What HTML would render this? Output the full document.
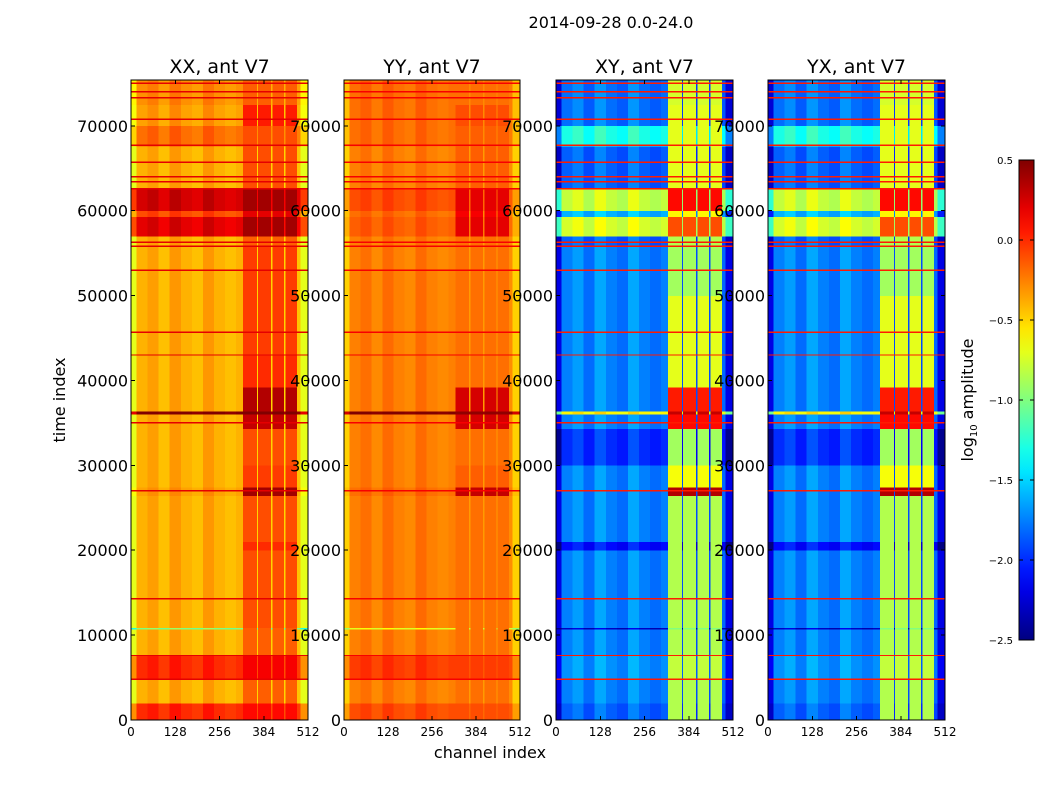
<!DOCTYPE html>
<html><head><meta charset="utf-8"><style>
body{margin:0;background:#fff;font-family:"Liberation Sans","DejaVu Sans",sans-serif}
svg text{font-family:"DejaVu Sans","Liberation Sans",sans-serif}
</style></head><body>
<svg id="fig" width="1050" height="800" viewBox="0 0 1050 800" xmlns="http://www.w3.org/2000/svg" shape-rendering="crispEdges">
<rect width="1050" height="800" fill="#fff"/>
<text x="611" y="28" font-size="16" text-anchor="middle">2014-09-28 0.0-24.0</text>
<text x="490" y="758" font-size="16" text-anchor="middle">channel index</text>
<text transform="translate(65,400) rotate(-90)" font-size="16" text-anchor="middle">time index</text>
<g id="panels"></g>
<g id="cbar"></g>
</svg>
<script>
const timeEdges=[0,2000,4800,7600,10700,10900,20000,21000,26400,27400,30000,34300,36000,36400,39200,43000,50000,55800,57000,59300,60000,62600,67600,70000,72500,75400];
const xxBroad=[0.0,-0.4,0.0,-0.4,-1.0,-0.4,-0.4,-0.4,-0.35,-0.4,-0.4,-0.4,0.5,-0.4,-0.4,-0.4,-0.4,-0.4,0.2,-0.1,0.25,-0.4,-0.2,-0.35,-0.3];
const xxRfi=[0.1,-0.15,0.15,-0.15,-0.15,-0.1,0.0,-0.1,0.4,-0.05,-0.1,0.3,0.5,0.35,0.0,-0.05,-0.05,-0.15,0.4,0.2,0.4,-0.1,-0.1,0.05,-0.15];
const yyBroad=[-0.1,-0.25,-0.05,-0.25,-0.7,-0.25,-0.25,-0.25,-0.2,-0.25,-0.25,-0.25,0.5,-0.25,-0.25,-0.25,-0.25,-0.25,-0.15,-0.2,-0.1,-0.25,-0.2,-0.2,-0.2];
const yyRfi=[-0.1,-0.2,-0.05,-0.2,-0.2,-0.2,-0.2,-0.2,0.3,-0.15,-0.2,0.25,0.45,0.25,-0.2,-0.2,-0.2,-0.2,0.2,0.15,0.2,-0.15,-0.15,-0.1,-0.2];
const xyBroad=[-1.85,-1.75,-1.7,-1.75,-2.3,-1.75,-2.1,-1.75,-1.75,-1.75,-2.0,-1.75,-0.6,-1.75,-1.75,-1.75,-1.75,-1.85,-0.75,-1.6,-0.8,-1.85,-1.3,-1.8,-1.8];
const xyRfi=[-0.85,-0.85,-0.8,-0.85,-1.0,-0.85,-0.85,-0.85,0.35,-0.65,-0.9,0.1,0.3,0.05,-0.7,-0.7,-0.9,-0.85,-0.1,-0.6,0.1,-0.7,-0.7,-0.7,-0.75];
const chEdges=[0,16,48,80,112,144,176,208,240,272,304,324,364,368,405,409,443,447,480,490,512];
const chTypes=['b','b','b','b','b','b','b','b','b','b','b','r','g','r','g','r','g','r','b','b'];
const broadOffsets=[-0.3,0.0,0.06,-0.04,0.08,0.0,-0.04,0.08,0.0,-0.04,0.0,-0.05,-0.3];
const lineTimes=[4800,7600,14300,27000,35000,43000,45700,53000,55800,56300,62600,63400,64000,65700,67700,70800,73300,74000,75000];
const xxLine=0.2, yyLine=0.15, xyLine=0.05;
const cbTicks=[0.5,0.0,-0.5,-1.0,-1.5,-2.0,-2.5];
const xTicks=[0,128,256,384,512];
const yTicks=[0,10000,20000,30000,40000,50000,60000,70000];

const VMIN=-2.5,VMAX=0.5,TMAX=75400,CMAX=512;
const PY0=80,PY1=720;
function cl(v){return Math.max(0,Math.min(1,v));}
function jet(v){const x=cl((v-VMIN)/(VMAX-VMIN));
 const r=cl(1.5-Math.abs(4*x-3)),g=cl(1.5-Math.abs(4*x-2)),b=cl(1.5-Math.abs(4*x-1));
 return `rgb(${Math.round(r*255)},${Math.round(g*255)},${Math.round(b*255)})`;}
const NS="http://www.w3.org/2000/svg";
function mk(tag,attrs,parent){const e=document.createElementNS(NS,tag);for(const k in attrs)e.setAttribute(k,attrs[k]);parent.appendChild(e);return e;}

const panels=[
 {name:'xx',title:'XX, ant V7',x0:131,x1:308,broad:xxBroad,rfi:xxRfi,line:xxLine,scale:1},
 {name:'yy',title:'YY, ant V7',x0:344,x1:520,broad:yyBroad,rfi:yyRfi,line:yyLine,scale:0.8},
 {name:'xy',title:'XY, ant V7',x0:556,x1:733,broad:xyBroad,rfi:xyRfi,line:xyLine,scale:1.5},
 {name:'yx',title:'YX, ant V7',x0:768,x1:945,broad:xyBroad,rfi:xyRfi,line:xyLine,scale:1.5}
];
const root=document.getElementById('panels');
panels.forEach(p=>{
 const g=mk('g',{},root);
 
 
 const xs=c=>p.x0+(p.x1-p.x0)*c/CMAX;
 const ys=t=>PY1-(PY1-PY0)*t/TMAX;
 for(let i=0;i<timeEdges.length-1;i++){
  const y0=ys(timeEdges[i+1]),y1=ys(timeEdges[i]);
  let bi=0;
  for(let j=0;j<chTypes.length;j++){
   let v;
   if(chTypes[j]==='b'){v=p.broad[i]+broadOffsets[bi]*p.scale;bi++;}
   else if(chTypes[j]==='r'){v=p.rfi[i];}
   else {v=p.broad[i]-0.1*p.scale;}
   const r=mk('rect',{x:xs(chEdges[j]).toFixed(2),y:y0.toFixed(2),width:(xs(chEdges[j+1])-xs(chEdges[j])+0.3).toFixed(2),height:(y1-y0+0.3).toFixed(2),fill:jet(v)},g);
   
   
  }
 }
 lineTimes.forEach(t=>{
  const l=mk('rect',{x:p.x0,y:(ys(t)-0.7).toFixed(2),width:p.x1-p.x0,height:1.4,fill:jet(p.line)},g);
  
  
 });
 const fr=mk('rect',{x:p.x0,y:PY0,width:p.x1-p.x0,height:PY1-PY0,fill:'none',stroke:'#000','stroke-width':1},g);
 
 
 const tt=mk('text',{x:(p.x0+p.x1)/2,y:73,'font-size':19,'text-anchor':'middle'},g);
 tt.textContent=p.title;
 
 
 xTicks.forEach(c=>{
  const x=xs(c);
  mk('line',{x1:x,x2:x,y1:PY1,y2:PY1-4,stroke:'#000'},g);
  mk('line',{x1:x,x2:x,y1:PY0,y2:PY0+4,stroke:'#000'},g);
  const t=mk('text',{x:x,y:736,'font-size':12,'text-anchor':'middle'},g);
  t.textContent=c;
  
  
 });
 yTicks.forEach(v=>{
  const y=ys(v);
  mk('line',{x1:p.x0,x2:p.x0+4,y1:y,y2:y,stroke:'#000'},g);
  mk('line',{x1:p.x1,x2:p.x1-4,y1:y,y2:y,stroke:'#000'},g);
  const t=mk('text',{x:p.x0-3,y:y+6,'font-size':16,'text-anchor':'end'},g);
  t.textContent=v;
  
  
 });
});
const cb=document.getElementById('cbar');


const CB0=160,CB1=640,CX0=1019,CX1=1034;
const defs=mk('defs',{},cb);
const lg=mk('linearGradient',{id:'jetg',x1:0,y1:1,x2:0,y2:0},defs);
for(let k=0;k<=20;k++){mk('stop',{offset:k/20,'stop-color':jet(VMIN+(VMAX-VMIN)*k/20)},lg);}
mk('rect',{x:CX0,y:CB0,width:CX1-CX0,height:CB1-CB0,fill:'url(#jetg)',stroke:'#000'},cb);
cbTicks.forEach(v=>{
 const y=CB1-(CB1-CB0)*(v-VMIN)/(VMAX-VMIN);
 mk('line',{x1:CX0,x2:CX0+4,y1:y,y2:y,stroke:'#000'},cb);
 mk('line',{x1:CX1,x2:CX1-4,y1:y,y2:y,stroke:'#000'},cb);
 const t=mk('text',{x:1013,y:y+4,'font-size':10,'text-anchor':'end'},cb);
 t.textContent=v.toFixed(1).replace('-','\u2212');
 
 
});
const lab=mk('text',{transform:'translate(973,400) rotate(-90)','font-size':16,'text-anchor':'middle'},cb);
lab.innerHTML='log<tspan font-size="10" dy="4">10</tspan><tspan dy="-4"> amplitude</tspan>';


</script>
</body></html>
